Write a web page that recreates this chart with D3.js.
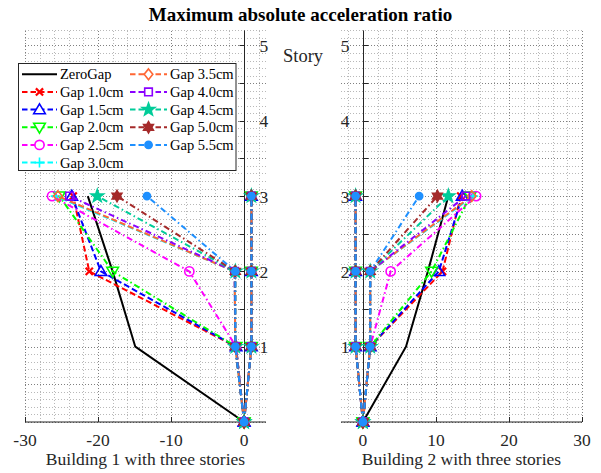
<!DOCTYPE html>
<html><head><meta charset="utf-8">
<script src="https://cdn.jsdelivr.net/npm/d3@7"></script>
<style>body{margin:0;background:#fff}svg{display:block}</style>
</head><body><svg id="c" width="601" height="473" font-family="'Liberation Serif', 'Times New Roman', 'DejaVu Serif', serif"></svg>
<script>
// ---------- data ----------
const stories = [0, 1, 2, 3];
const seriesNames = ["ZeroGap","Gap 1.0cm","Gap 1.5cm","Gap 2.0cm","Gap 2.5cm","Gap 3.0cm","Gap 3.5cm","Gap 4.0cm","Gap 4.5cm","Gap 5.0cm","Gap 5.5cm"];
const b1ZeroGap = [0, -14.9, -18.0, -21.4];
const b2ZeroGap = [0, 5.9, 8.9, 11.7];
// Building 1: main response per gap case
const b1Gap = [
  [0, -1.1, -21.2, -23.4],
  [0, -1.1, -19.6, -23.6],
  [0, -1.1, -18.0, -25.3],
  [0, -1.1, -7.5, -26.3],
  [0, -1.2, -1.3, -25.8],
  [0, -1.2, -1.3, -25.5],
  [0, -1.2, -1.3, -23.9],
  [0, -1.2, -1.2, -20.1],
  [0, -1.2, -1.2, -17.4],
  [0, -1.2, -1.2, -13.3]
];
// Building 1: adjacent building response per gap case
const b1Adj = [
  [0, 1.0, 1.0, 1.0],[0, 1.0, 1.0, 1.0],[0, 1.0, 1.0, 1.0],[0, 1.0, 1.0, 1.0],[0, 1.0, 1.0, 1.0],
  [0, 1.0, 1.0, 1.0],[0, 1.0, 1.0, 1.0],[0, 1.0, 1.0, 1.0],[0, 1.0, 1.0, 1.0],[0, 1.0, 1.0, 1.0]
];
const b2Gap = [
  [0, 1.0, 10.9, 13.4],
  [0, 1.0, 10.4, 13.6],
  [0, 1.0, 9.4, 14.7],
  [0, 1.0, 3.8, 15.5],
  [0, 1.0, 1.0, 15.1],
  [0, 1.0, 1.0, 14.9],
  [0, 1.0, 1.0, 14.1],
  [0, 1.0, 1.0, 11.7],
  [0, 1.0, 1.0, 10.2],
  [0, 1.0, 1.0, 7.7]
];
const b2Adj = [
  [0, -1.0, -1.0, -1.0],[0, -1.0, -1.0, -1.0],[0, -1.0, -1.0, -1.0],[0, -1.0, -1.0, -1.0],[0, -1.0, -1.0, -1.0],
  [0, -1.0, -1.0, -1.0],[0, -1.0, -1.0, -1.0],[0, -1.0, -1.0, -1.0],[0, -1.0, -1.0, -1.0],[0, -1.0, -1.0, -1.0]
];
const b1XTicks = [-30, -20, -10, 0];
const b2XTicks = [0, 10, 20, 30];
const yTickLabels = [1, 2, 3, 4, 5];

// ---------- styles ----------
const FONT = "'Liberation Serif', 'Times New Roman', 'DejaVu Serif', serif";
const colors = ["#FF0000","#0000FF","#00FF00","#FF00FF","#00FFFF","#FF6633","#8A00FF","#00CC99","#A52A2A","#1E90FF"];
const markers = ["x","^","v","o","+","d","s","p","h","."];
const dashes = ["6,3","6,3","6,3,1.5,3","6,3,1.5,3","6,3","6,3","6,3,1.5,3","6,3,1.5,3","6,3,1.5,3","6,3,1.5,3"];
const filled = [false,false,false,false,false,false,false,true,true,true];

function starPath(n, R, r) {
  let p = "";
  for (let i = 0; i < 2 * n; i++) {
    const a = -Math.PI / 2 + i * Math.PI / n;
    const rr = i % 2 === 0 ? R : r;
    p += (i === 0 ? "M" : "L") + (rr * Math.cos(a)).toFixed(2) + "," + (rr * Math.sin(a)).toFixed(2);
  }
  return p + "Z";
}
function markerPath(t) {
  switch (t) {
    case "x": { const r = 3.6; return `M${-r},${-r}L${r},${r}M${-r},${r}L${r},${-r}`; }
    case "+": { const r = 5; return `M${-r},0L${r},0M0,${-r}L0,${r}`; }
    case "^": { const r = 5.8; return `M0,${-r}L${r},${r*0.7}L${-r},${r*0.7}Z`; }
    case "v": { const r = 5.8; return `M0,${r}L${r},${-r*0.7}L${-r},${-r*0.7}Z`; }
    case "o": { const r = 4.6; return `M${r},0A${r},${r} 0 1,1 ${-r},0A${r},${r} 0 1,1 ${r},0Z`; }
    case "d": { const r = 5.4; return `M0,${-r}L${r*0.8},0L0,${r}L${-r*0.8},0Z`; }
    case "s": { const s = 3.8; return `M${-s},${-s}H${s}V${s}H${-s}Z`; }
    case "p": return starPath(5, 6.6, 2.7);
    case "h": return starPath(6, 5.6, 3.2);
    case ".": { const r = 3.6; return `M${r},0A${r},${r} 0 1,1 ${-r},0A${r},${r} 0 1,1 ${r},0Z`; }
  }
}

const svg = d3.select("#c");
const y = d3.scaleLinear().domain([0, 5.2]).range([422, 30.4]);
const xA = d3.scaleLinear().domain([-30, 3]).range([25, 266]);
const xB = d3.scaleLinear().domain([-3, 30]).range([341, 582]);

function txt(g) {
  return g.append("text").attr("font-family", FONT).attr("fill", "#262626");
}

function drawGrid(g, x) {
  const [d0, d1] = x.domain();
  const minorX = d3.range(Math.ceil(d0 / 2) * 2, d1 + 0.001, 2);
  const minorY = d3.range(0, 5.2001, 0.1);
  const majorY = d3.range(0, 5.2001, 0.5);
  const majorX = d3.range(Math.ceil(d0 / 10) * 10, d1 + 0.001, 10);
  g.selectAll(null).data(minorY).join("line")
    .attr("x1", x.range()[0]).attr("x2", x.range()[1])
    .attr("y1", d => Math.round(y(d)) + 0.5).attr("y2", d => Math.round(y(d)) + 0.5)
    .attr("stroke", "#b8b8b8").attr("stroke-dasharray", "1,2");
  g.selectAll(null).data(minorX).join("line")
    .attr("y1", y.range()[0]).attr("y2", y.range()[1])
    .attr("x1", d => Math.round(x(d)) + 0.5).attr("x2", d => Math.round(x(d)) + 0.5)
    .attr("stroke", "#b8b8b8").attr("stroke-dasharray", "1,2");
  g.selectAll(null).data(majorY).join("line")
    .attr("x1", x.range()[0]).attr("x2", x.range()[1])
    .attr("y1", d => Math.round(y(d)) + 0.5).attr("y2", d => Math.round(y(d)) + 0.5)
    .attr("stroke", "#808080").attr("stroke-dasharray", "1,2");
  g.selectAll(null).data(majorX).join("line")
    .attr("y1", y.range()[0]).attr("y2", y.range()[1])
    .attr("x1", d => Math.round(x(d)) + 0.5).attr("x2", d => Math.round(x(d)) + 0.5)
    .attr("stroke", "#808080").attr("stroke-dasharray", "1,2");
}

function drawAxes(g, x, xticks, labelSide) {
  const x0 = Math.round(x(0)) + 0.5;
  g.append("line").attr("x1", x.range()[0]).attr("x2", x.range()[1])
    .attr("y1", y(0)).attr("y2", y(0)).attr("stroke", "#262626").attr("stroke-width", 1);
  g.selectAll(null).data(xticks).join("line")
    .attr("x1", d => Math.round(x(d)) + 0.5).attr("x2", d => Math.round(x(d)) + 0.5)
    .attr("y1", y(0)).attr("y2", y(0) - 5).attr("stroke", "#262626");
  g.selectAll(null).data(xticks).join("text")
    .attr("font-family", FONT).attr("fill", "#262626")
    .attr("x", d => x(d)).attr("y", 446).attr("text-anchor", "middle")
    .attr("font-size", 17.5).text(d => d);
  g.append("line").attr("x1", x0).attr("x2", x0)
    .attr("y1", y.range()[1]).attr("y2", y(0)).attr("stroke", "#262626");
  const dir = labelSide === "right" ? -1 : 1;
  g.selectAll(null).data(d3.range(0.5, 5.01, 0.5)).join("line")
    .attr("x1", x0).attr("x2", x0 + dir * 5)
    .attr("y1", d => Math.round(y(d)) + 0.5).attr("y2", d => Math.round(y(d)) + 0.5)
    .attr("stroke", "#262626");
  g.selectAll(null).data(yTickLabels).join("text")
    .attr("font-family", FONT).attr("fill", "#262626")
    .attr("x", labelSide === "right" ? x0 + 15 : x0 - 14)
    .attr("y", d => y(d) + 6.5)
    .attr("text-anchor", labelSide === "right" ? "start" : "end")
    .attr("font-size", 17.5).text(d => d);
}

function drawSeries(g, x, vals, i) {
  const line = d3.line().x(d => x(d)).y((d, k) => y(stories[k]));
  g.append("path").attr("d", line(vals)).attr("fill", "none")
    .attr("stroke", colors[i]).attr("stroke-width", 2)
    .attr("stroke-dasharray", dashes[i]);
  g.selectAll(null).data(vals).join("path")
    .attr("transform", (d, k) => `translate(${x(d)},${y(stories[k])})`)
    .attr("d", markerPath(markers[i]))
    .attr("fill", filled[i] ? colors[i] : "none")
    .attr("stroke", colors[i]).attr("stroke-width", markers[i] === "x" ? 2.2 : 1.6);
}

function drawPanel(x, zero, main, adj, xticks, side, xlabel) {
  const g = svg.append("g");
  drawGrid(g, x);
  drawAxes(g, x, xticks, side);
  const line = d3.line().x(d => x(d)).y((d, k) => y(stories[k]));
  g.append("path").attr("d", line(zero)).attr("fill", "none")
    .attr("stroke", "#000").attr("stroke-width", 2);
  main.forEach((vals, i) => {
    drawSeries(g, x, vals, i);
    drawSeries(g, x, adj[i], i);
  });
  txt(g).attr("x", (x.range()[0] + x.range()[1]) / 2).attr("y", 465)
    .attr("text-anchor", "middle").attr("font-size", 17.5).text(xlabel);
  return g;
}

drawPanel(xA, b1ZeroGap, b1Gap, b1Adj, b1XTicks, "right", "Building 1 with three stories");
drawPanel(xB, b2ZeroGap, b2Gap, b2Adj, b2XTicks, "left", "Building 2 with three stories");

txt(svg).attr("x", 303).attr("y", 62).attr("text-anchor", "middle")
  .attr("font-size", 18.5).text("Story");
txt(svg).attr("x", 300.5).attr("y", 21).attr("text-anchor", "middle")
  .attr("font-size", 19).attr("font-weight", "bold").attr("fill", "#000")
  .text("Maximum absolute acceleration ratio");

// legend
const lg = svg.append("g");
lg.append("rect").attr("x", 18.5).attr("y", 63.5).attr("width", 217.5).attr("height", 107)
  .attr("fill", "#fff").attr("stroke", "#262626");
const rowY = k => 74.3 + k * 17.66;
seriesNames.forEach((name, idx) => {
  const col = idx < 6 ? 0 : 1;
  const row = idx < 6 ? idx : idx - 6;
  const lx0 = col === 0 ? 22 : 130, lx1 = col === 0 ? 57 : 167;
  const yy = rowY(row);
  const i = idx - 1;
  lg.append("line").attr("x1", lx0).attr("x2", lx1).attr("y1", yy).attr("y2", yy)
    .attr("stroke", idx === 0 ? "#000" : colors[i]).attr("stroke-width", 2)
    .attr("stroke-dasharray", idx === 0 ? null : "5.5,3");
  if (idx > 0) {
    lg.append("path").attr("transform", `translate(${(lx0 + lx1) / 2},${yy})`)
      .attr("d", markerPath(markers[i]))
      .attr("fill", filled[i] ? colors[i] : "#fff")
      .attr("stroke", colors[i]).attr("stroke-width", markers[i] === "x" ? 2.2 : 1.6);
  }
  txt(lg).attr("x", lx1 + 3).attr("y", yy + 5).attr("font-size", 14.5)
    .attr("fill", "#000").text(name);
});
</script></body></html>
